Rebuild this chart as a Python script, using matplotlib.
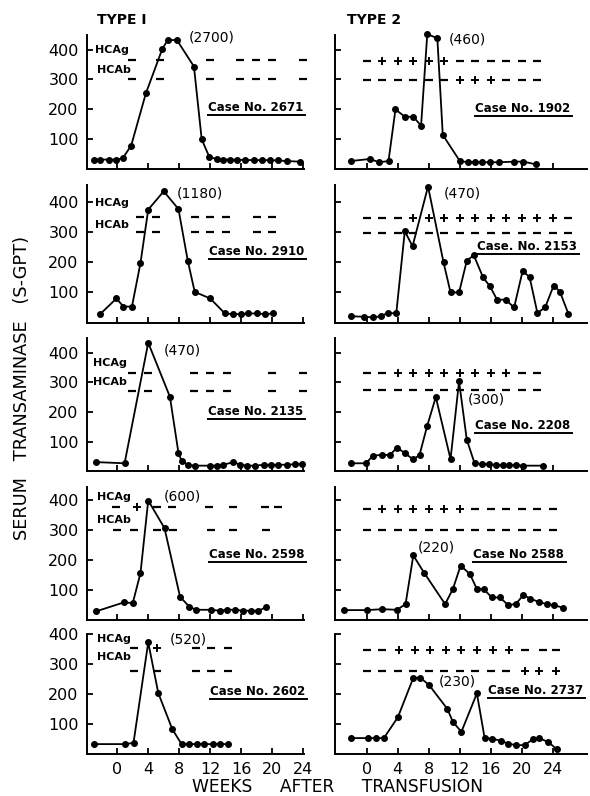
import matplotlib.pyplot as plt
from matplotlib.lines import Line2D

plt.rcParams['font.family'] = 'DejaVu Sans'

# ---- values: weeks after transfusion / S-GPT ----
# type 1 cases (left column)
wk_2671 = [-3, -2.2, -1.1, -0.1, 0.7, 1.8, 3.7, 5.8, 6.5, 7.7, 9.9, 10.9, 11.9,
           12.9, 13.6, 14.6, 15.5, 16.5, 17.6, 18.7, 19.7, 20.8, 21.9, 23.6]
gpt_2671 = [30, 30, 30, 30, 34, 77, 253, 401, 432, 432, 343, 98, 38,
            32, 30, 30, 29, 29, 28, 28, 28, 27, 25, 23]
wk_2910 = [-2.2, -0.1, 0.8, 1.9, 3.0, 4.0, 6.0, 7.9, 9.1, 10.0, 12.0, 13.9,
           15.0, 16.0, 16.9, 18.0, 19.1, 20.1]
gpt_2910 = [28, 80, 53, 53, 198, 376, 437, 378, 206, 102, 80, 30,
            28, 28, 30, 30, 28, 30]
wk_2135 = [-2.75, 0.95, 4.0, 6.8, 7.9, 8.3, 9.1, 10.0, 12.0, 12.9, 13.7, 15.0,
           15.9, 16.8, 17.8, 18.9, 19.8, 20.8, 21.9, 23.0, 23.9]
gpt_2135 = [31, 27, 433, 251, 62, 35, 22, 19, 19, 19, 22, 31,
            22, 19, 19, 22, 22, 22, 22, 24, 24]
wk_2598 = [-2.7, 0.9, 2.0, 3.0, 4.0, 6.1, 8.1, 9.3, 10.2, 12.1, 13.2, 14.2,
           15.2, 16.2, 17.3, 18.2, 19.2]
gpt_2598 = [29, 59, 56, 156, 398, 306, 78, 44, 34, 34, 31, 34,
            34, 31, 31, 31, 42]
wk_2602 = [-3.0, 1.0, 2.1, 4.0, 5.3, 7.1, 8.3, 9.3, 10.3, 11.2, 12.3, 13.3, 14.3]
gpt_2602 = [33, 33, 37, 372, 203, 83, 33, 33, 33, 33, 33, 33, 33]

# type 2 cases (right column)
wk_1902 = [-2.1, 0.4, 1.6, 2.8, 3.7, 4.9, 6.0, 7.0, 7.8, 9.1, 9.8, 12.0,
           13.1, 13.9, 14.9, 15.9, 17.0, 19.0, 20.2, 21.8]
gpt_1902 = [25, 32, 21, 25, 199, 174, 174, 144, 452, 438, 113, 25,
            21, 21, 21, 21, 21, 23, 23, 14]
wk_2153 = [-2.1, -0.3, 0.8, 1.8, 2.7, 3.8, 4.9, 5.9, 7.9, 9.9, 10.8, 11.9, 12.9,
           13.8, 15.0, 15.9, 16.8, 17.9, 19.0, 20.1, 21.0, 22.0, 23.0, 24.1, 24.9, 26.0]
gpt_2153 = [21, 19, 17, 21, 32, 30, 304, 254, 453, 200, 100, 100, 206,
            224, 150, 120, 76, 76, 50, 172, 151, 32, 50, 123, 103, 29]
wk_2208 = [-2.1, -0.1, 0.8, 1.9, 3.0, 3.9, 4.9, 6.0, 6.8, 7.8, 8.9, 10.8,
           11.9, 12.9, 13.9, 14.9, 15.8, 16.7, 17.6, 18.4, 19.2, 20.1, 22.7]
gpt_2208 = [27, 27, 53, 55, 55, 80, 61, 40, 55, 154, 250, 41,
            303, 106, 27, 24, 24, 21, 21, 21, 21, 19, 19]
wk_2588 = [-2.9, 0.0, 2.0, 3.9, 5.0, 6.0, 7.4, 10.1, 11.1, 12.1, 13.3, 14.2,
           15.1, 16.1, 17.2, 18.2, 19.2, 20.2, 21.1, 22.2, 23.2, 24.2, 25.3]
gpt_2588 = [33, 33, 36, 34, 53, 215, 157, 53, 103, 181, 153, 103,
            103, 75, 75, 50, 53, 83, 71, 60, 53, 49, 41]
wk_2737 = [-2.0, 0.1, 1.2, 2.2, 4.0, 6.0, 6.9, 8.0, 10.4, 11.1, 12.2, 14.2,
           15.2, 16.2, 17.3, 18.2, 19.3, 20.4, 21.4, 22.2, 23.4, 24.5]
gpt_2737 = [53, 53, 53, 53, 122, 254, 254, 231, 150, 107, 74, 202,
            53, 51, 44, 35, 29, 30, 49, 53, 40, 16]

# HCAg / HCAb results (weeks and signs)
ag_wk_2671 = [1.9, 5.5, 12, 15.9, 17.9, 20, 24]
ag_2671 = "-------"
ab_wk_2671 = [1.9, 5.5, 12, 15.9, 17.9, 20, 24]
ab_2671 = "-------"
ag_wk_2910 = [3, 5, 10, 12, 14, 18, 20]
ag_2910 = "-------"
ab_wk_2910 = [3, 5, 10, 12, 14, 18, 20]
ab_2910 = "-------"
ag_wk_2135 = [1.9, 4, 9.9, 12, 14.2, 20, 24]
ag_2135 = "-------"
ab_wk_2135 = [1.9, 4, 9.9, 12, 14.2, 20, 24]
ab_2135 = "-------"
ag_wk_2598 = [-0.1, 2.5, 5.1, 7.1, 11.9, 15, 19.1, 20.8]
ag_2598 = "-+------"
ab_wk_2598 = [0, 2.1, 5.1, 7.2, 12.1, 15, 19.2]
ab_2598 = "-------"
ag_wk_2602 = [2.1, 5.1, 10.1, 12.1, 14.3]
ag_2602 = "-+---"
ab_wk_2602 = [2.1, 5.1, 10.1, 12.1, 14.3]
ab_2602 = "-----"

ag_wk_1902 = [0, 2, 4, 6, 8, 10, 12, 14, 16, 18, 20, 22]
ag_1902 = "-+++++------"
ab_wk_1902 = [0, 2, 4, 6, 8, 10, 12, 14, 16, 18, 20, 22]
ab_1902 = "------+++---"
ag_wk_2153 = [0, 2, 4, 6, 8, 10, 12, 14, 16, 18, 20, 22, 24, 26]
ag_2153 = "---++++++++++-"
ab_wk_2153 = [0, 2, 4, 6, 8, 10, 12, 14, 16, 18, 20, 22, 24, 26]
ab_2153 = "--------------"
ag_wk_2208 = [0, 2, 4, 6, 8, 10, 12, 14, 16, 18, 20, 22]
ag_2208 = "--++++++++--"
ab_wk_2208 = [0, 2, 4, 6, 8, 10, 12, 14, 16, 18, 20, 22]
ab_2208 = "------------"
ag_wk_2588 = [0, 2, 4, 6, 8, 10, 12, 14, 16, 18, 20, 22, 24]
ag_2588 = "-++++++------"
ab_wk_2588 = [0, 2, 4, 6, 8, 10, 12, 14, 16, 18, 20, 22, 24]
ab_2588 = "-------------"
ag_wk_2737 = [0, 2, 4.2, 6.2, 8.2, 10.2, 12.2, 14.2, 16.3, 18.3, 20.4, 22.7, 24.4]
ag_2737 = "--++++++++---"
ab_wk_2737 = [0, 2, 4, 6, 8, 10, 12, 14, 16, 18, 20.4, 22.2, 24.4]
ab_2737 = "----------+++"

# peak values written above the curves
peak_labels = ["(2700)", "(1180)", "(470)", "(600)", "(520)",
               "(460)", "(470)", "(300)", "(220)", "(230)"]
case_labels = ["Case No. 2671", "Case No. 2910", "Case No. 2135", "Case No. 2598", "Case No. 2602",
               "Case No. 1902", "Case. No. 2153", "Case No. 2208", "Case No 2588", "Case No. 2737"]
week_ticks = [0, 4, 8, 12, 16, 20, 24]
gpt_ticks = [100, 200, 300, 400]

panels = [
    (wk_2671, gpt_2671, ag_wk_2671, ag_2671, ab_wk_2671, ab_2671),
    (wk_2910, gpt_2910, ag_wk_2910, ag_2910, ab_wk_2910, ab_2910),
    (wk_2135, gpt_2135, ag_wk_2135, ag_2135, ab_wk_2135, ab_2135),
    (wk_2598, gpt_2598, ag_wk_2598, ag_2598, ab_wk_2598, ab_2598),
    (wk_2602, gpt_2602, ag_wk_2602, ag_2602, ab_wk_2602, ab_2602),
    (wk_1902, gpt_1902, ag_wk_1902, ag_1902, ab_wk_1902, ab_1902),
    (wk_2153, gpt_2153, ag_wk_2153, ag_2153, ab_wk_2153, ab_2153),
    (wk_2208, gpt_2208, ag_wk_2208, ag_2208, ab_wk_2208, ab_2208),
    (wk_2588, gpt_2588, ag_wk_2588, ag_2588, ab_wk_2588, ab_2588),
    (wk_2737, gpt_2737, ag_wk_2737, ag_2737, ab_wk_2737, ab_2737),
]

# ---- layout (pixels of a 590x796 canvas) ----
W, H = 590, 796
cols = [(87, 304, -3.9, 24.1), (335, 587, -4.1, 28.4)]
rows = [(35, 168.5, 449), (185, 322.5, 458), (338, 471.3, 449),
        (487, 620, 443), (634, 754, 400)]
# y level of the HCAg and HCAb sign rows
sign_levels = [(365, 300), (352, 302), (332, 271), (376, 301), (352, 278),
               (362, 298), (349, 299), (332, 273), (371, 301), (348, 276)]
peak_pos = [(12.2, 440), (10.7, 429), (8.45, 408), (8.45, 413), (9.2, 383),
            (13.0, 433), (12.3, 429), (15.4, 241), (9.0, 243), (11.7, 243)]
case_pos = [(0.558, 0.46), (0.562, 0.515), (0.558, 0.447), (0.562, 0.489), (0.567, 0.52),
            (0.556, 0.453), (0.563, 0.556), (0.556, 0.34), (0.548, 0.489), (0.607, 0.533)]
hca_pos = [((-2.84, 399), (-2.6, 332)), ((-2.84, 397), (-2.84, 325)),
           ((-3.1, 365), (-3.1, 301)), ((-2.6, 411), (-2.6, 333)),
           ((-2.6, 383), (-2.6, 322))]

fig = plt.figure(figsize=(W / 100, H / 100), dpi=100)
case_texts = []

for i, (wk, gpt, agw, ag, abw, ab) in enumerate(panels):
    c, r = divmod(i, 5)
    x0, x1, xmin, xmax = cols[c]
    top, bot, ymax = rows[r]
    ax = fig.add_axes([x0 / W, 1 - bot / H, (x1 - x0) / W, (bot - top) / H])
    ax.set_xlim(xmin, xmax)
    ax.set_ylim(0, ymax)
    for s in ['top', 'right']:
        ax.spines[s].set_visible(False)
    for s in ['left', 'bottom']:
        ax.spines[s].set_linewidth(1.4)
    ax.set_xticks(week_ticks)
    ax.set_yticks(gpt_ticks)
    ax.tick_params(direction='in', length=4, width=1.3, labelsize=11.5, pad=6)
    if c == 1:
        ax.set_yticklabels([])
    if r < 4:
        ax.set_xticklabels([])

    ax.plot(wk, gpt, '-o', color='black', lw=1.3, ms=4, clip_on=False, zorder=3)

    # HCAg / HCAb sign rows
    for weeks, signs, lev in ((agw, ag, sign_levels[i][0]), (abw, ab, sign_levels[i][1])):
        mw = [w for w, s in zip(weeks, signs) if s == '-']
        pw = [w for w, s in zip(weeks, signs) if s == '+']
        ax.plot(mw, [lev] * len(mw), ls='none', marker='_', ms=6, mew=1.6,
                color='black', clip_on=False)
        ax.plot(pw, [lev] * len(pw), ls='none', marker='+', ms=6, mew=1.4,
                color='black', clip_on=False)

    px, py = peak_pos[i]
    ax.text(px, py, peak_labels[i], ha='center', va='center', fontsize=10)

    cx, cy = case_pos[i]
    t = ax.text(cx, cy, case_labels[i], transform=ax.transAxes, ha='left',
                va='center', fontsize=8.5, fontweight='bold')
    case_texts.append(t)

    if c == 0:
        (gx, gy), (bx, by) = hca_pos[r]
        ax.text(gx, gy, "HCAg", ha='left', va='center', fontsize=8, fontweight='bold')
        ax.text(bx, by, "HCAb", ha='left', va='center', fontsize=8, fontweight='bold')

fig.text(97 / W, 1 - 20 / H, "TYPE I", ha='left', va='center', fontsize=10, fontweight='bold')
fig.text(347 / W, 1 - 20 / H, "TYPE 2", ha='left', va='center', fontsize=10, fontweight='bold')
fig.text(337 / W, 1 - 787 / H, "WEEKS     AFTER     TRANSFUSION", ha='center', va='center',
         fontsize=12.3)
fig.text(22 / W, 1 - 388 / H, "SERUM   TRANSAMINASE   (S-GPT)", ha='center', va='center',
         rotation=90, fontsize=12.8)

# underline the case numbers
fig.canvas.draw()
rend = fig.canvas.get_renderer()
for t in case_texts:
    bb = t.get_window_extent(rend)
    yy = (bb.y0 - 1) / H
    fig.add_artist(Line2D([bb.x0 / W, (bb.x1 + 2) / W], [yy, yy], color='black', lw=1.4))

fig.savefig("out.png", dpi=100)
